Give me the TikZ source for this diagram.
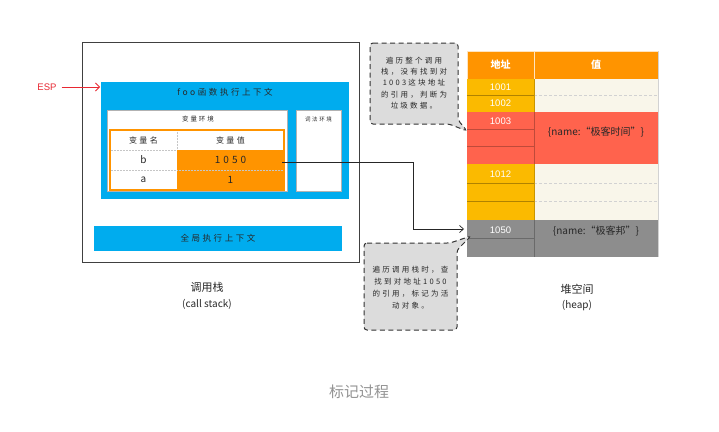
\documentclass[tikz,border=0pt]{standalone}
\usepackage{fontspec}
\setmainfont{Liberation Sans}
\newfontfamily\cjk{Noto Sans CJK SC}
\newfontfamily\cjkls[LetterSpace=30]{Noto Sans CJK SC}
\usetikzlibrary{arrows.meta}
\definecolor{cblue}{RGB}{0,172,238}
\definecolor{corange}{RGB}{255,148,0}
\definecolor{cyellow}{RGB}{251,186,0}
\definecolor{ccream}{RGB}{249,246,234}
\definecolor{cred}{RGB}{255,99,77}
\definecolor{cgray}{RGB}{141,141,141}
\definecolor{cnote}{RGB}{220,220,220}
\definecolor{cesp}{RGB}{232,40,50}
\definecolor{ctext}{RGB}{40,40,40}
\tikzset{
  rectbox/.style={rectangle, inner sep=0pt, outer sep=0pt, anchor=north west},
  hw/.style={font=\cjkls\fontsize{#1}{#1}\selectfont, text=ctext, inner sep=0pt},
  cell/.style={rectbox, draw=gray!45, densely dotted, line width=0.5pt},
  addr/.style={rectbox, minimum width=67pt, font=\fontsize{9.5}{10}\selectfont, text=white},
  val/.style={rectbox, minimum width=124pt},
  note/.style={fill=cnote, draw=gray!40!black, dash pattern=on 5pt off 3.5pt, line width=1pt, rounded corners=3pt},
  conn/.style={draw=black!85, line width=0.7pt, -{Straight Barb[length=4pt,width=7pt]}},
  lbl/.style={font=\cjk\fontsize{#1}{#1}\selectfont, text=ctext, inner sep=0pt},
}
\begin{document}
\begin{tikzpicture}[x=1pt, y=-1pt]
\useasboundingbox[fill=white] (0,0) rectangle (719,431);

% ---- call stack ----
\node[rectbox, draw=gray!50!black, line width=0.8pt, minimum width=277pt, minimum height=220pt] (stack) at (82,42) {};
\node[rectbox, fill=cblue, minimum width=248pt, minimum height=117pt] (foo) at (101,82) {};
\node[hw=8.5] (footitle) at (225,92) {foo函数执行上下文};
\node[rectbox, fill=white, draw=gray!60, line width=0.5pt, minimum width=180pt, minimum height=81pt] (varenv) at (107,110) {};
\node[hw=6.5] (varenvt) at (198,119) {变量环境};
\node[rectbox, fill=white, draw=gray!60, line width=0.5pt, minimum width=45pt, minimum height=81pt] (lexenv) at (296,110) {};
\node[hw=5.5] (lexenvt) at (318.5,119) {词法环境};

% variable table
\node[cell, fill=white, minimum width=67pt, minimum height=20pt] (hname) at (110,130) {};
\node[cell, fill=white, minimum width=107pt, minimum height=20pt] (hval) at (177,130) {};
\node[cell, fill=white, minimum width=67pt, minimum height=20pt] (nb) at (110,150) {};
\node[rectbox, fill=corange, minimum width=107pt, minimum height=20pt] (v1050) at (177,150) {};
\node[cell, fill=white, minimum width=67pt, minimum height=20pt] (na) at (110,170) {};
\node[rectbox, fill=corange, minimum width=107pt, minimum height=20pt] (v1) at (177,170) {};
\draw[gray!45, densely dotted, line width=0.5pt] (v1050.south west) -- (v1050.south east);
\draw[corange, line width=1.3pt] (110,130) rectangle (284,190);
\node[hw=8] (thname) at (hname) {变量名};
\node[hw=8] (thval) at (hval) {变量值};
\node[hw=10] (tb) at (nb) {b};
\node[hw=10] (ta) at (na) {a};
\node[hw=10] (t1050) at (v1050) {1050};
\node[hw=10] (t1) at (v1) {1};

% global context
\node[rectbox, fill=cblue, minimum width=248pt, minimum height=25pt] (global) at (94,226) {};
\node[hw=8.5] (globalt) at (global) {全局执行上下文};

% ESP
\node[text=cesp, font=\fontsize{9.5}{10}\selectfont, inner sep=0pt] (esp) at (47,87) {ESP};
\draw[cesp, line width=0.8pt, -{Straight Barb[length=4pt,width=8pt]}, shorten <=5pt, shorten >=1pt] (esp.east) -- (esp.east -| foo.west);

% ---- heap ----
\node[rectbox, fill=corange, draw=white!75!corange, line width=0.5pt, minimum width=67pt, minimum height=28pt, font=\cjk\bfseries\fontsize{10}{10}\selectfont, text=white] (haddr) at (467,51) {地址};
\node[rectbox, fill=corange, draw=white!75!corange, line width=0.5pt, minimum width=124pt, minimum height=28pt, font=\cjk\bfseries\fontsize{10}{10}\selectfont, text=white] (hvalue) at (534,51) {值};

% address column
\node[addr, fill=cyellow, minimum height=16pt] (h1001) at (467,79) {1001};
\node[addr, fill=cyellow, minimum height=17pt] (h1002) at (467,95) {1002};
\node[addr, fill=cred, minimum height=17pt] (h1003) at (467,112) {};
\node[addr, fill=cred, minimum height=17pt] (h1003b) at (467,129) {};
\node[addr, fill=cred, minimum height=18pt] (h1003c) at (467,146) {};
\node[addr, fill=cyellow, minimum height=19pt] (h1012) at (467,164) {};
\node[addr, fill=cyellow, minimum height=18pt] (h1012b) at (467,183) {};
\node[addr, fill=cyellow, minimum height=19pt] (h1012c) at (467,201) {};
\node[addr, fill=cgray, minimum height=18pt] (h1050) at (467,220) {};
\node[addr, fill=cgray, minimum height=19pt] (h1050b) at (467,238) {};
\node[font=\fontsize{9.5}{10}\selectfont, text=white, inner sep=0pt] (l1003) at (500.5,121) {1003};
\node[font=\fontsize{9.5}{10}\selectfont, text=white, inner sep=0pt] (l1012) at (500.5,174) {1012};
\node[font=\fontsize{9.5}{10}\selectfont, text=white, inner sep=0pt] (l1050) at (500.5,230) {1050};
\draw[black!30!cyellow, line width=0.4pt] (467,95) -- (534,95) (467,183) -- (534,183) (467,201) -- (534,201);
\draw[black!25!cred, line width=0.4pt] (467,129) -- (534,129) (467,146) -- (534,146);
\draw[black!25!cgray, line width=0.4pt] (467,238) -- (534,238);

% value column
\node[val, fill=ccream, minimum height=33pt] (v1001) at (534,79) {};
\node[val, fill=cred, minimum height=52pt] (v1003) at (534,112) {};
\node[val, fill=ccream, minimum height=56pt] (v1012) at (534,164) {};
\node[val, fill=cgray, minimum height=37pt] (vh1050) at (534,220) {};
\draw[gray!35, densely dashed, line width=0.4pt] (534,95) -- (658,95) (534,183) -- (658,183) (534,201) -- (658,201);
\draw[black!25!cred, line width=0.4pt] (534,112) -- (534,164);
\draw[black!25!cgray, line width=0.4pt] (534,220) -- (534,257);
\draw[black!20!cyellow, line width=0.4pt] (534,79) -- (534,112) (534,164) -- (534,220);
\node[lbl=10] (obj1003) at (596,132) {\{name:“极客时间”\}};
\node[lbl=10] (obj1050) at (596,231) {\{name:“极客邦”\}};
\draw[gray!35, line width=0.5pt] (658,51) -- (658,257);

% ---- connector ----
\coordinate (bend) at (413,229);
\path (v1050.east) ++(-2,2) coordinate (cstart);
\draw[conn, shorten >=3pt] (cstart) -| (bend) -- (bend -| h1050.west);

% ---- callouts ----
\path[note] (370,43) -- (458,43) -- (458,120) -- (467,131) -- (449,124) -- (370,124) -- cycle;
\node[hw=7.5, align=center] (note1) at (414,83) {遍历整个调用\\[3.9pt]栈，没有找到对\\[3.9pt]1003这块地址\\[3.9pt]的引用，判断为\\[3.9pt]垃圾数据。};
\path[note] (364,243) -- (450,243) -- (471,236) -- (457,250) -- (457,330) -- (364,330) -- cycle;
\node[hw=7.5, align=center] (note2) at (410.5,287.5) {遍历调用栈时，查\\[4.5pt]找到对地址1050\\[4.5pt]的引用，标记为活\\[4.5pt]动对象。};

% ---- labels ----
\node[lbl=11] (stackl) at (207,287) {调用栈};
\node[lbl=10] (stackl2) at (207,304) {(call stack)};
\node[lbl=11] (heapl) at (577,289) {堆空间};
\node[lbl=10] (heapl2) at (577,306) {(heap)};
\node[font=\cjk\fontsize{15}{15}\selectfont, text=gray!85, inner sep=0pt] (caption) at (359,392) {标记过程};
\end{tikzpicture}
\end{document}
